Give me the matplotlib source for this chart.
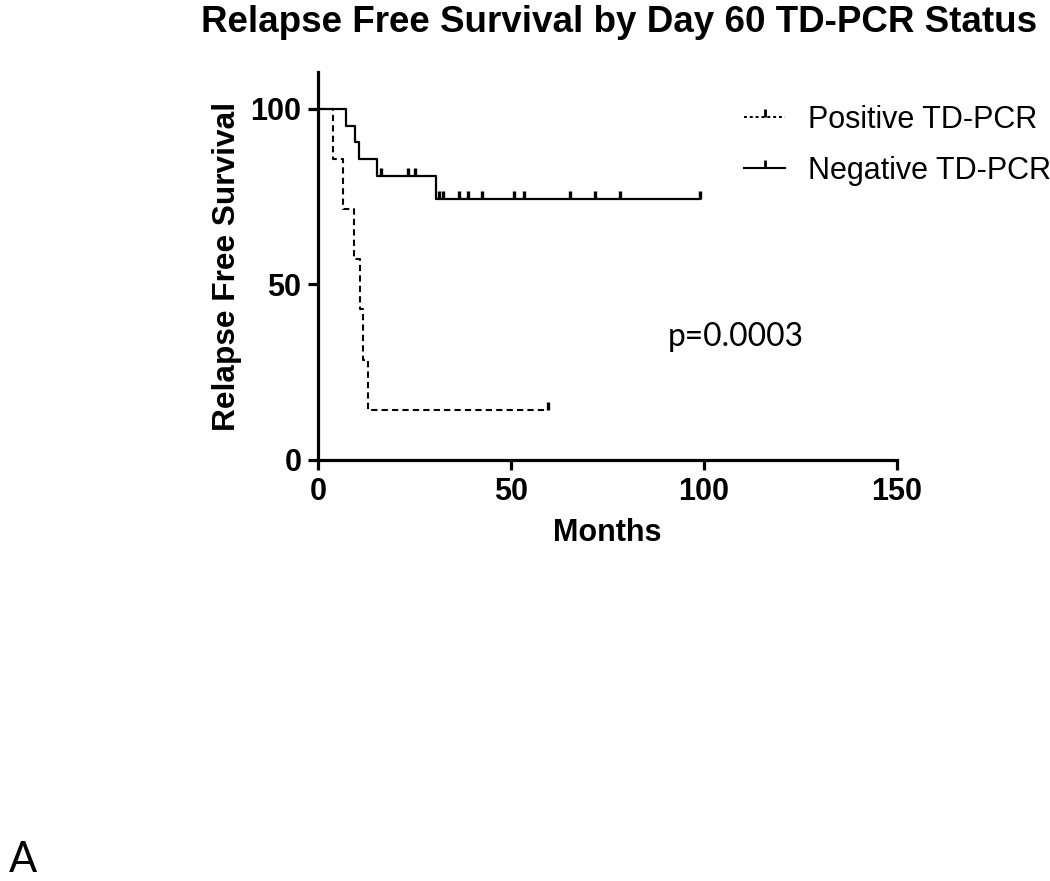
import matplotlib.pyplot as plt
from matplotlib.lines import Line2D

# Kaplan-Meier steps (months, % relapse free)
neg_times = [0, 7.3, 9.6, 10.7, 15.4, 30.6, 99.0]
neg_surv = [100, 95.2, 90.5, 85.7, 81.0, 74.2, 74.2]
neg_cens_times = [16.3, 23.4, 25.1, 31.4, 32.5, 36.6, 38.9, 42.4, 50.8, 53.4, 65.3, 71.8, 78.2, 99.0]
neg_cens_surv = [81.0, 81.0, 81.0, 74.2, 74.2, 74.2, 74.2, 74.2, 74.2, 74.2, 74.2, 74.2, 74.2, 74.2]

pos_times = [0, 4.0, 6.4, 9.2, 10.9, 11.7, 13.0, 59.6]
pos_surv = [100, 85.7, 71.4, 57.1, 42.9, 28.6, 14.3, 14.3]
pos_cens_times = [59.6]
pos_cens_surv = [14.3]

x_ticks = [0, 50, 100, 150]
y_ticks = [0, 50, 100]

plt.rcParams["font.family"] = ["Liberation Sans", "DejaVu Sans"]

fig = plt.figure(figsize=(10.5, 8.81), dpi=100)
ax = fig.add_axes([0.3029, 0.4779, 0.5514, 0.4404])

dash = (0, (3, 2))
ax.step(pos_times, pos_surv, where="post", color="black", lw=1.5, linestyle=dash)
ax.plot(pos_cens_times, pos_cens_surv, linestyle="none", marker=2, ms=6, mew=2.4, color="black")
ax.step(neg_times, neg_surv, where="post", color="black", lw=1.6)
ax.plot(neg_cens_times, neg_cens_surv, linestyle="none", marker=2, ms=6, mew=2.4, color="black")

ax.set_xlim(0, 150)
ax.set_ylim(0, 110.5)
ax.set_xticks(x_ticks)
ax.set_yticks(y_ticks)
for s in ["top", "right"]:
    ax.spines[s].set_visible(False)
for s in ["left", "bottom"]:
    ax.spines[s].set_linewidth(2.3)
ax.tick_params(direction="out", length=7, width=2.3, labelsize=22, pad=5)
for lab in ax.get_xticklabels() + ax.get_yticklabels():
    lab.set_fontweight("bold")

ax.set_xlabel("Months", fontsize=22, fontweight="bold", labelpad=8)
ax.set_ylabel("Relapse Free Survival", fontsize=22.8, fontweight="bold", labelpad=6)

fig.text(0.590, 0.975, "Relapse Free Survival by Day 60 TD-PCR Status",
         ha="center", va="center", fontsize=26.5, fontweight="bold")

handles = [
    Line2D([], [], color="black", lw=1.4, linestyle=(0, (1.5, 1.5)), marker=2, ms=6, mew=2),
    Line2D([], [], color="black", lw=1.5, marker=2, ms=6, mew=2),
]
fig.legend(handles, ["Positive TD-PCR", "Negative TD-PCR"], loc="upper left",
           bbox_to_anchor=(0.682, 0.912), frameon=False, fontsize=22,
           handlelength=1.37, handletextpad=0.75, labelspacing=0.67, numpoints=1)

fig.text(0.636, 0.617, "p=0.0003", fontsize=22.9, family=["Lato", "DejaVu Sans"], va="center")
fig.text(0.008, 0.002, "A", fontsize=30, family=["Lato", "DejaVu Sans"], va="bottom")

fig.savefig("out.png", dpi=100)
